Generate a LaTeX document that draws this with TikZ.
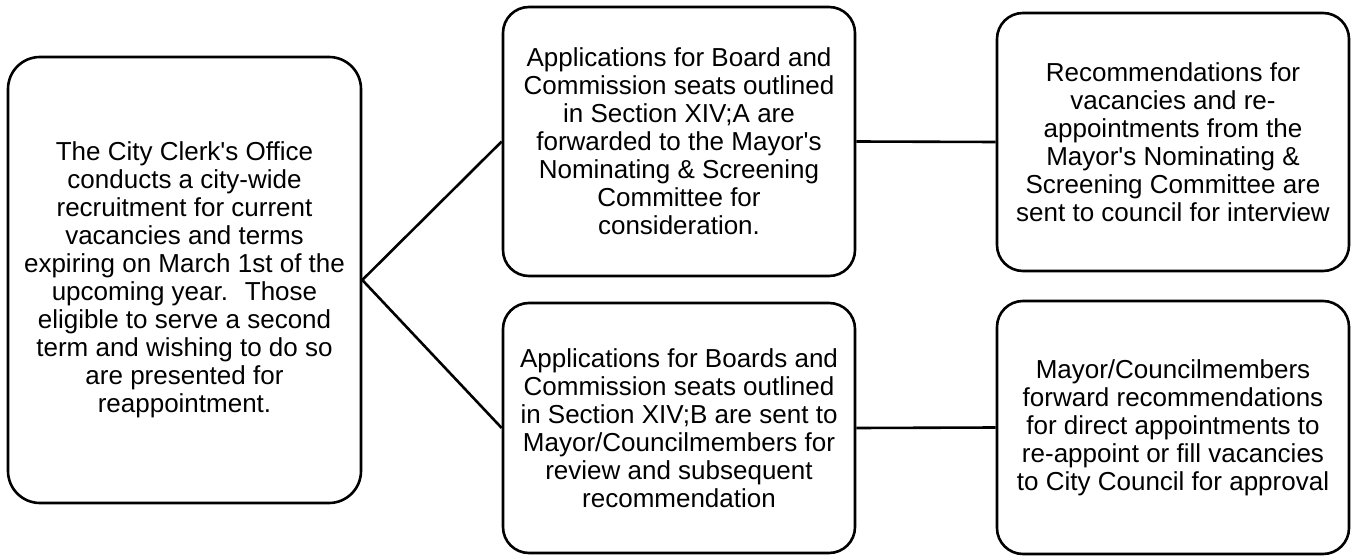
\documentclass[tikz,border=0pt]{standalone}
\usepackage{fontspec}
\setmainfont{Liberation Sans}
\usepackage{tikz}

\newcommand\ap{\textquotesingle}

\tikzset{
    stepbox/.style={draw, line width=2.6pt, rounded corners=26pt, align=center,
        font=\fontsize{26}{28}\selectfont, inner sep=0pt},
    link/.style={line width=2.6pt}
}

\begin{document}
\begin{tikzpicture}[x=1pt, y=-1pt]
            \useasboundingbox (0,0) rectangle (1351,556);

            % 左侧大框
            \node[stepbox, rounded corners=32pt, minimum width=353pt, minimum height=446pt] (clerk) at (184.5,280)
                {The City Clerk\ap s Office\\conducts a city-wide\\recruitment for current\\vacancies and terms\\expiring on March 1st of the\\upcoming year.~ Those\\eligible to serve a second\\term and wishing to do so\\are presented for\\reappointment.};

            % 中间两个框
            \node[stepbox, minimum width=352pt, minimum height=269pt] (boardA) at (679,141.5)
                {Applications for Board and\\Commission seats outlined\\in Section XIV;A are\\forwarded to the Mayor\ap s\\Nominating \& Screening\\Committee for\\consideration.};
            \node[stepbox, minimum width=352pt, minimum height=250pt] (boardB) at (679,428)
                {Applications for Boards and\\Commission seats outlined\\in Section XIV;B are sent to\\Mayor/Councilmembers for\\review and subsequent\\recommendation};

            % 右侧两个框
            \node[stepbox, minimum width=352pt, minimum height=258pt] (recA) at (1173,142)
                {Recommendations for\\vacancies and re-\\appointments from the\\Mayor\ap s Nominating \&\\Screening Committee are\\sent to council for interview};
            \node[stepbox, minimum width=352pt, minimum height=253pt] (recB) at (1173,427.5)
                {Mayor/Councilmembers\\forward recommendations\\for direct appointments to\\re-appoint or fill vacancies\\to City Council for approval};

            % 连线
            \draw[link] (clerk.east) -- (boardA.west);
            \draw[link] (clerk.east) -- (boardB.west);
            \draw[link] (boardA.east) -- (recA.west);
            \draw[link] (boardB.east) -- (recB.west);
\end{tikzpicture}
\end{document}
